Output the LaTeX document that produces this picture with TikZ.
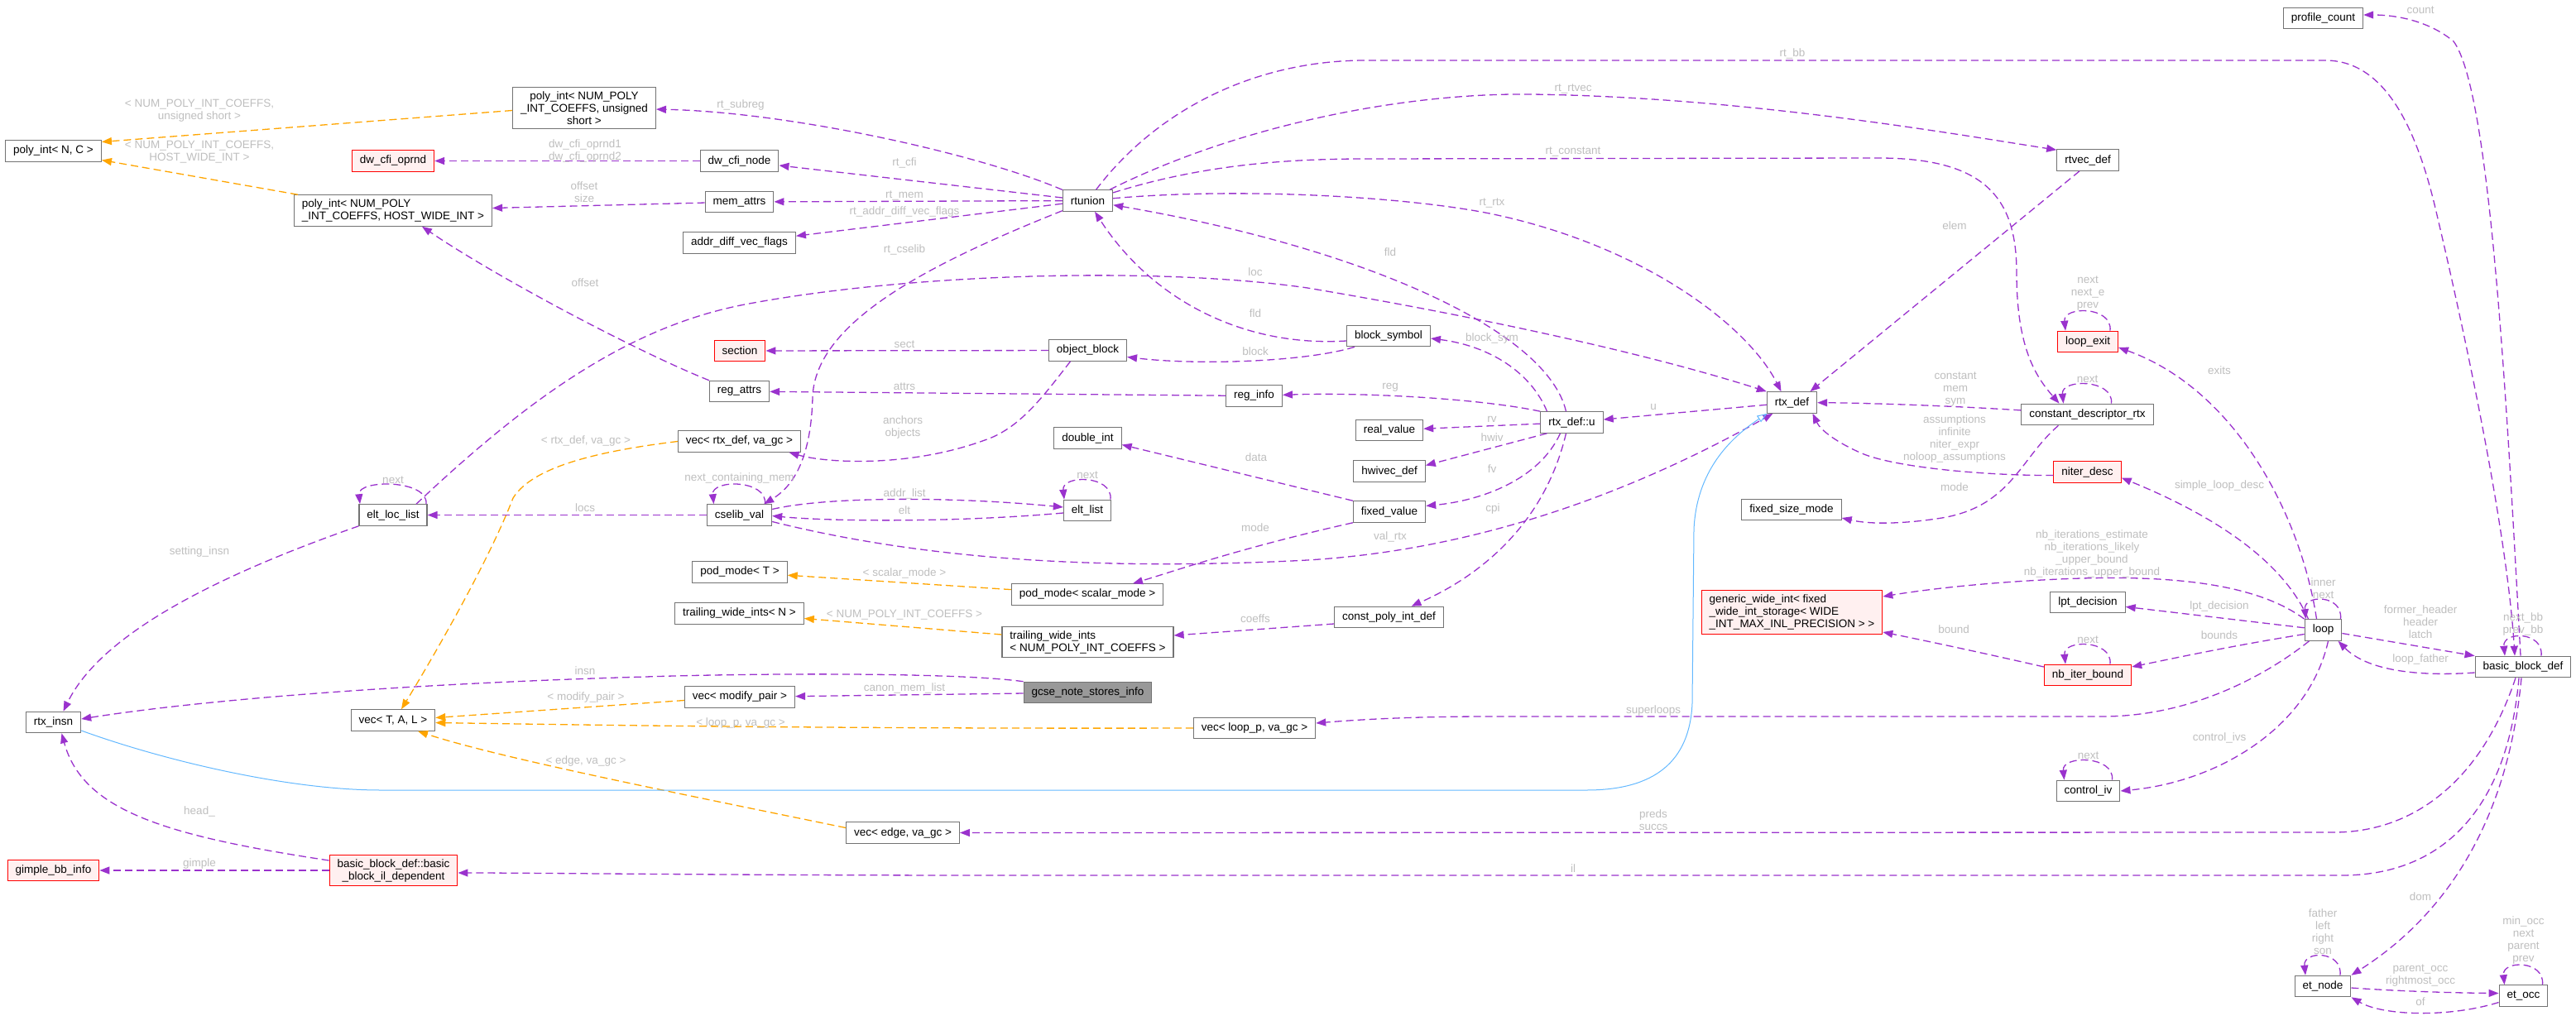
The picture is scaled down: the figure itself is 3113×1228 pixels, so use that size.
\documentclass[tikz,border=0pt]{standalone}
\usepackage{fontspec}
\setmainfont{Liberation Sans}
\usetikzlibrary{arrows.meta}
\definecolor{edgeuse}{HTML}{9A32CD}
\definecolor{edgetmpl}{HTML}{FFA500}
\definecolor{edgeinh}{HTML}{63B8FF}
\definecolor{nodeline}{HTML}{737373}
\definecolor{labelgray}{HTML}{BEBEBE}
\definecolor{redfill}{HTML}{FFF0F0}
\definecolor{curfill}{HTML}{999999}
\tikzset{
  box/.style={draw=nodeline, line width=1.1pt, fill=white, font=\fontsize{13.5}{15}\selectfont,
    minimum height=25.5pt, inner xsep=9.5pt, inner ysep=5pt},
  redbox/.style={box, draw=red, fill=redfill},
  curbox/.style={box, fill=curfill},
  elabel/.style={font=\fontsize{13.5}{15}\selectfont, text=labelgray, align=center, inner sep=1pt},
  usage/.style={draw=edgeuse, line width=1.3pt, dash pattern=on 9pt off 5pt,
    -{Triangle[length=12pt,width=9pt,fill=edgeuse]}},
  tmpl/.style={draw=edgetmpl, line width=1.3pt, dash pattern=on 9pt off 5pt,
    -{Triangle[length=12pt,width=9pt,fill=edgetmpl]}},
  inh/.style={draw=edgeinh, line width=1pt, -{Triangle[open,length=12pt,width=9pt]}}
}
\newcommand{\selfloop}[3]{%
  \draw[usage] ([xshift=#2]#1.north) .. controls +(3pt,30pt) and +(-3pt,30pt) .. ([xshift=-#2]#1.north)
    node[elabel, anchor=south, at={([yshift=23pt]#1.north)}] {#3};}
\begin{document}
\begin{tikzpicture}[x=1pt, y=-1pt]
  \useasboundingbox (0,0) rectangle (3113,1228);
  \node[box] (polyNC) at (64.5,182.5) {poly\_int< N, C >};
  \node[box, align=center] (polyUS) at (706,130.5) {poly\_int< NUM\_POLY\\\_INT\_COEFFS, unsigned\\short >};
  \node[redbox] (dwoprnd) at (475,194.5) {dw\_cfi\_oprnd};
  \node[box, align=left] (polyHWI) at (475,254.5) {poly\_int< NUM\_POLY\\\_INT\_COEFFS, HOST\_WIDE\_INT >};
  \node[box] (dwnode) at (893.5,194.5) {dw\_cfi\_node};
  \node[box] (memattrs) at (893.5,244) {mem\_attrs};
  \node[box] (adv) at (893.5,293.5) {addr\_diff\_vec\_flags};
  \node[box] (rtunion) at (1314.5,242.5) {rtunion};
  \node[redbox] (section) at (894,424) {section};
  \node[box] (objblock) at (1314.5,423.5) {object\_block};
  \node[box] (blocksym) at (1678,406) {block\_symbol};
  \node[box] (regattrs) at (893.5,473) {reg\_attrs};
  \node[box] (reginfo) at (1515.5,478.5) {reg\_info};
  \node[box] (vecrtx) at (893.5,533.5) {vec< rtx\_def, va\_gc >};
  \node[box] (doubleint) at (1314.5,529.5) {double\_int};
  \node[box] (eltloc) at (475,622.5) {elt\_loc\_list};
  \node[box] (cselib) at (893.5,622.5) {cselib\_val};
  \node[box] (eltlist) at (1314,617) {elt\_list};
  \node[box] (podT) at (894,691.5) {pod\_mode< T >};
  \node[box] (podS) at (1314,718.5) {pod\_mode< scalar\_mode >};
  \node[box] (twiN) at (893.5,741.5) {trailing\_wide\_ints< N >};
  \node[box, align=left] (twiNUM) at (1314.5,776) {trailing\_wide\_ints\\< NUM\_POLY\_INT\_COEFFS >};
  \node[box] (realval) at (1679,520) {real\_value};
  \node[box] (hwivec) at (1679,569.5) {hwivec\_def};
  \node[box] (fixedval) at (1679,618.5) {fixed\_value};
  \node[box] (cpid) at (1678.5,746) {const\_poly\_int\_def};
  \node[box] (rtxu) at (1899.5,510.5) {rtx\_def::u};
  \node[box] (rtxdef) at (2165.5,486.5) {rtx\_def};
  \node[box] (fsm) at (2165,616) {fixed\_size\_mode};
  \node[redbox, align=left] (gwi) at (2165.5,740) {generic\_wide\_int< fixed\\\_wide\_int\_storage< WIDE\\\_INT\_MAX\_INL\_PRECISION > >};
  \node[box] (rtvec) at (2523,193.5) {rtvec\_def};
  \node[redbox] (loopexit) at (2523,413) {loop\_exit};
  \node[box] (cdr) at (2522.5,501) {constant\_descriptor\_rtx};
  \node[redbox] (niter) at (2522.5,570.5) {niter\_desc};
  \node[box] (lptdec) at (2523,728) {lpt\_decision};
  \node[redbox] (nbiter) at (2523,816) {nb\_iter\_bound};
  \node[box] (controliv) at (2523.5,956) {control\_iv};
  \node[box] (loop) at (2807.5,761.5) {loop};
  \node[box] (profile) at (2807.5,22) {profile\_count};
  \node[box] (bbd) at (3049,806) {basic\_block\_def};
  \node[box] (etnode) at (2807,1192) {et\_node};
  \node[box] (etocc) at (3049.5,1203.5) {et\_occ};
  \node[box] (rtxinsn) at (64.5,873) {rtx\_insn};
  \node[box] (vecT) at (475,870.5) {vec< T, A, L >};
  \node[box] (vecmod) at (894,842.5) {vec< modify\_pair >};
  \node[curbox] (gcse) at (1314.5,837) {gcse\_note\_stores\_info};
  \node[box] (veclp) at (1516,880) {vec< loop\_p, va\_gc >};
  \node[box] (vecedge) at (1091,1006.5) {vec< edge, va\_gc >};
  \node[redbox, align=center] (bbil) at (475.5,1052) {basic\_block\_def::basic\\\_block\_il\_dependent};
  \node[redbox] (gimple) at (64.5,1052) {gimple\_bb\_info};

  \draw[usage] (rtunion) .. controls (1180,185) and (950,135) .. (polyUS) node[elabel, at={(895,127)}] {rt\_subreg};
  \draw[usage] (rtunion) -- (dwnode) node[elabel, at={(1093,197)}] {rt\_cfi};
  \draw[usage] (rtunion) -- (memattrs) node[elabel, at={(1093,236)}] {rt\_mem};
  \draw[usage] (rtunion) -- (adv) node[elabel, at={(1093,256)}] {rt\_addr\_diff\_vec\_flags};
  \draw[usage] (rtunion) .. controls (1120,320) and (985,390) .. (982,480) .. controls (980,560) and (955,590) .. ([xshift=-10pt]cselib.north east) node[elabel, at={(1093,302)}] {rt\_cselib};
  \draw[usage] (rtunion) .. controls (1400,130) and (1520,73) .. (1650,73) -- (2810,73) .. controls (2880,73) and (2920,150) .. (2945,260) .. controls (2985,430) and (3030,650) .. ([xshift=-10pt]bbd.north) node[elabel, at={(2166,65)}] {rt\_bb};
  \draw[usage] (rtunion) .. controls (1500,150) and (1700,112) .. (1850,114) .. controls (2100,117) and (2350,160) .. ([yshift=-1pt]rtvec.north west) node[elabel, at={(1901,107)}] {rt\_rtvec};
  \draw[usage] (rtunion) .. controls (1450,200) and (1550,192) .. (1650,192) -- (2270,191) .. controls (2400,191) and (2437,240) .. (2437,330) .. controls (2437,420) and (2460,455) .. ([xshift=-34pt]cdr.north) node[elabel, at={(1901,183)}] {rt\_constant};
  \draw[usage] (rtunion) .. controls (1500,226) and (1700,238) .. (1800,258) .. controls (1980,295) and (2110,390) .. ([xshift=-13pt]rtxdef.north) node[elabel, at={(1803,245)}] {rt\_rtx};
  \draw[usage] ([xshift=-7pt]rtxu.north) .. controls (1870,400) and (1650,300) .. (rtunion) node[elabel, at={(1680,305)}] {fld};
  \draw[usage] ([yshift=-6pt]blocksym.west) .. controls (1500,420) and (1390,360) .. (rtunion) node[elabel, at={(1517,379)}] {fld};
  \draw[usage] ([xshift=-41pt]blocksym.south) .. controls (1580,437) and (1450,442) .. ([yshift=-8pt]objblock.east) node[elabel, at={(1517,425)}] {block};
  \draw[usage] (objblock) -- (section) node[elabel, at={(1093,416)}] {sect};
  \draw[usage] ([xshift=-21pt]objblock.south) .. controls (1260,480) and (1232,518) .. (1190,532) .. controls (1100,565) and (1000,560) .. ([xshift=60pt]vecrtx.south) node[elabel, at={(1091,516.5)}] {anchors\\objects};
  \draw[usage] (reginfo) -- (regattrs) node[elabel, at={(1093,467)}] {attrs};
  \draw[usage] (regattrs.north west) .. controls (770,425) and (600,335) .. ([xshift=35pt]polyHWI.south) node[elabel, at={(707,342)}] {offset};
  \draw[usage] (dwnode) -- (dwoprnd) node[elabel, at={(707,183)}] {dw\_cfi\_oprnd1\\dw\_cfi\_oprnd2};
  \draw[usage] (memattrs) -- (polyHWI) node[elabel, at={(706,232.5)}] {offset\\size};
  \draw[usage] (rtxu.north west) .. controls (1790,482) and (1650,474) .. (reginfo) node[elabel, at={(1680,468)}] {reg};
  \draw[usage] ([xshift=-30pt]rtxu.north) .. controls (1850,450) and (1800,418) .. ([yshift=-3pt]blocksym.east) node[elabel, at={(1803,409)}] {block\_sym};
  \draw[usage] (rtxu) -- (realval) node[elabel, at={(1803,507)}] {rv};
  \draw[usage] ([xshift=-30pt]rtxu.south) -- ([yshift=7pt]hwivec.east) node[elabel, at={(1803,529)}] {hwiv};
  \draw[usage] ([xshift=-14pt]rtxu.south) .. controls (1860,580) and (1790,605) .. ([yshift=7pt]fixedval.east) node[elabel, at={(1803,567)}] {fv};
  \draw[usage] ([xshift=-7pt]rtxu.south) .. controls (1865,640) and (1780,700) .. ([xshift=27pt]cpid.north) node[elabel, at={(1804,615)}] {cpi};
  \draw[usage] (rtxdef) -- (rtxu) node[elabel, at={(1998,492)}] {u};
  \draw[usage] ([xshift=28pt]eltloc.north) .. controls (640,480) and (760,395) .. (900,368) .. controls (1100,330) and (1400,322) .. (1580,348) .. controls (1800,385) and (2000,430) .. (rtxdef.north west) node[elabel, at={(1517,329)}] {loc};
  \draw[usage] (cselib) -- (eltloc) node[elabel, at={(707,614)}] {locs};
  \draw[usage] ([yshift=7pt]cselib.east) .. controls (1000,600) and (1150,600) .. ([yshift=4pt]eltlist.west) node[elabel, at={(1093,597)}] {addr\_list};
  \draw[usage] ([yshift=-3pt]eltlist.west) .. controls (1150,632) and (1000,630) .. ([yshift=-1pt]cselib.east) node[elabel, at={(1093,617)}] {elt};
  \draw[usage] ([yshift=-8pt]cselib.east) .. controls (1100,672) and (1300,690) .. (1560,678) .. controls (1800,668) and (2000,580) .. ([xshift=-23pt]rtxdef.south) node[elabel, at={(1680,649)}] {val\_rtx};
  \draw[usage] (fixedval.north west) -- ([yshift=-8pt]doubleint.east) node[elabel, at={(1518,553)}] {data};
  \draw[usage] (fixedval.south west) .. controls (1500,662) and (1420,690) .. ([xshift=55pt]podS.north) node[elabel, at={(1517,638)}] {mode};
  \draw[usage] ([yshift=-8pt]cpid.west) -- ([yshift=8pt]twiNUM.east) node[elabel, at={(1517,748)}] {coeffs};
  \draw[usage] ([xshift=-10pt]rtvec.south) -- ([xshift=22pt]rtxdef.north) node[elabel, at={(2362,273)}] {elem};
  \draw[usage] (cdr) .. controls (2350,490) and (2250,487) .. (rtxdef) node[elabel, at={(2363,471)}] {constant\\mem\\sym};
  \draw[usage] ([yshift=-4pt]niter.west) .. controls (2400,575) and (2290,565) .. (2250,548) .. controls (2220,535) and (2200,520) .. ([xshift=25pt]rtxdef.south) node[elabel, at={(2362,531)}] {assumptions\\infinite\\niter\_expr\\noloop\_assumptions};
  \draw[usage] ([xshift=-35pt]cdr.south) .. controls (2440,555) and (2430,615) .. (2340,627) .. controls (2300,633) and (2260,634) .. ([yshift=-10pt]fsm.east) node[elabel, at={(2362,589)}] {mode};
  \draw[usage] ([xshift=-8pt]loop.north) .. controls (2780,620) and (2700,470) .. ([yshift=-7pt]loopexit.east) node[elabel, at={(2682,448)}] {exits};
  \draw[usage] ([xshift=-18pt]loop.north) .. controls (2760,680) and (2680,625) .. ([yshift=-7pt]niter.east) node[elabel, at={(2682,587)}] {simple\_loop\_desc};
  \draw[usage] (loop.north west) .. controls (2720,700) and (2600,695) .. (2488,700) .. controls (2400,704) and (2330,712) .. ([yshift=19pt]gwi.east) node[elabel, at={(2528,670)}] {nb\_iterations\_estimate\\nb\_iterations\_likely\\\_upper\_bound\\nb\_iterations\_upper\_bound};
  \draw[usage] (loop) -- (lptdec) node[elabel, at={(2682,733)}] {lpt\_decision};
  \draw[usage] ([yshift=-5pt]loop.west) .. controls (2700,780) and (2630,795) .. ([yshift=10pt]nbiter.east) node[elabel, at={(2682,768)}] {bounds};
  \draw[usage] ([yshift=10pt]nbiter.west) .. controls (2400,790) and (2330,775) .. ([yshift=-24pt]gwi.east) node[elabel, at={(2361,761)}] {bound};
  \draw[usage] ([yshift=-4pt]loop.east) -- (bbd.north west) node[elabel, at={(2925,752)}] {former\_header\\header\\latch};
  \draw[usage] ([yshift=-7pt]bbd.west) .. controls (2920,818) and (2860,810) .. ([xshift=18pt]loop.south) node[elabel, at={(2925,797)}] {loop\_father};
  \draw[usage] ([xshift=-17pt]loop.south) .. controls (2740,815) and (2650,866) .. (2540,866) -- (1800,866) .. controls (1700,866) and (1640,870) .. ([yshift=6pt]veclp.east) node[elabel, at={(1998,859)}] {superloops};
  \draw[usage] ([xshift=6pt]loop.south) .. controls (2790,880) and (2680,945) .. (controliv.east) node[elabel, at={(2682,892)}] {control\_ivs};
  \draw[usage] ([xshift=-9pt]bbd.south) .. controls (3000,940) and (2920,1006) .. (2820,1006) -- (vecedge.east) node[elabel, at={(1998,991.5)}] {preds\\succs};
  \draw[usage] ([xshift=-5pt]bbd.south) .. controls (3030,980) and (2950,1058) .. (2830,1058) -- (1200,1058) .. controls (900,1058) and (650,1055) .. ([yshift=-3pt]bbil.east) node[elabel, at={(1901,1050)}] {il};
  \draw[usage] ([xshift=-2pt]bbd.south) .. controls (3030,1000) and (2950,1110) .. (etnode.north east) node[elabel, at={(2925,1084)}] {dom};
  \draw[usage] ([yshift=-2pt]etnode.east) .. controls (2900,1198) and (2960,1200) .. ([yshift=3pt]etocc.west) node[elabel, at={(2925,1179.5)}] {parent\_occ\\rightmost\_occ};
  \draw[usage] ([yshift=-8pt]etocc.west) .. controls (2960,1230) and (2880,1228) .. (etnode.south east) node[elabel, at={(2925,1211)}] {of};
  \draw[usage] ([xshift=-3pt]bbd.north) .. controls (3030,500) and (3010,110) .. (2965,50) .. controls (2935,25) and (2895,18) .. ([yshift=4pt]profile.east) node[elabel, at={(2925,12)}] {count};
  \draw[usage] (gcse) -- (vecmod) node[elabel, at={(1093,832)}] {canon\_mem\_list};
  \draw[usage] (gcse.north west) .. controls (1150,812) and (900,814) .. (780,818) .. controls (500,826) and (250,845) .. ([yshift=4pt]rtxinsn.east) node[elabel, at={(707,811)}] {insn};
  \draw[usage] (eltloc.south west) .. controls (250,700) and (120,770) .. ([xshift=12pt]rtxinsn.north) node[elabel, at={(241,667)}] {setting\_insn};
  \draw[usage] ([yshift=12pt]bbil.west) .. controls (200,1010) and (100,980) .. ([xshift=10pt]rtxinsn.south) node[elabel, at={(241,981)}] {head\_};
  \draw[usage] (bbil) -- (gimple) node[elabel, at={(241,1044)}] {gimple};

  \selfloop{eltloc}{40pt}{next}
  \selfloop{cselib}{31pt}{next\_containing\_mem}
  \selfloop{eltlist}{28pt}{next}
  \selfloop{loopexit}{27pt}{next\\next\_e\\prev}
  \selfloop{cdr}{29pt}{next}
  \selfloop{nbiter}{27pt}{next}
  \selfloop{controliv}{29pt}{next}
  \selfloop{loop}{21pt}{inner\\next}
  \selfloop{bbd}{22pt}{next\_bb\\prev\_bb}
  \selfloop{etnode}{21pt}{father\\left\\right\\son}
  \selfloop{etocc}{23pt}{min\_occ\\next\\parent\\prev}

  \draw[tmpl] ([yshift=-3pt]polyUS.west) -- ([yshift=11pt]polyNC.east) node[elabel, at={(241,134)}] {< NUM\_POLY\_INT\_COEFFS,\\unsigned short >};
  \draw[tmpl] ([xshift=5pt]polyHWI.north west) -- ([yshift=-11pt]polyNC.east) node[elabel, at={(241,183.5)}] {< NUM\_POLY\_INT\_COEFFS,\\HOST\_WIDE\_INT >};
  \draw[tmpl] (vecrtx.west) .. controls (700,548) and (640,570) .. (620,602) .. controls (590,680) and (520,800) .. ([xshift=10pt]vecT.north) node[elabel, at={(708,533)}] {< rtx\_def, va\_gc >};
  \draw[tmpl] (podS) -- (podT) node[elabel, at={(1093,693)}] {< scalar\_mode >};
  \draw[tmpl] ([yshift=9pt]twiNUM.west) -- ([yshift=-6pt]twiN.east) node[elabel, at={(1093,743)}] {< NUM\_POLY\_INT\_COEFFS >};
  \draw[tmpl] ([yshift=-4pt]vecmod.west) -- ([yshift=3pt]vecT.east) node[elabel, at={(708,843)}] {< modify\_pair >};
  \draw[tmpl] (veclp.west) .. controls (1000,881) and (700,876) .. ([yshift=-3pt]vecT.east) node[elabel, at={(895,874)}] {< loop\_p, va\_gc >};
  \draw[tmpl] ([yshift=6pt]vecedge.west) .. controls (800,955) and (600,915) .. ([xshift=30pt]vecT.south) node[elabel, at={(708,920)}] {< edge, va\_gc >};

  \draw[inh] ([yshift=-10pt]rtxinsn.east) .. controls (200,920) and (350,955) .. (460,955) -- (1917,955) .. controls (2000,955) and (2042,920) .. (2045,850) -- (2047,640) .. controls (2050,570) and (2090,530) .. ([xshift=-30pt]rtxdef.south);
\end{tikzpicture}
\end{document}
